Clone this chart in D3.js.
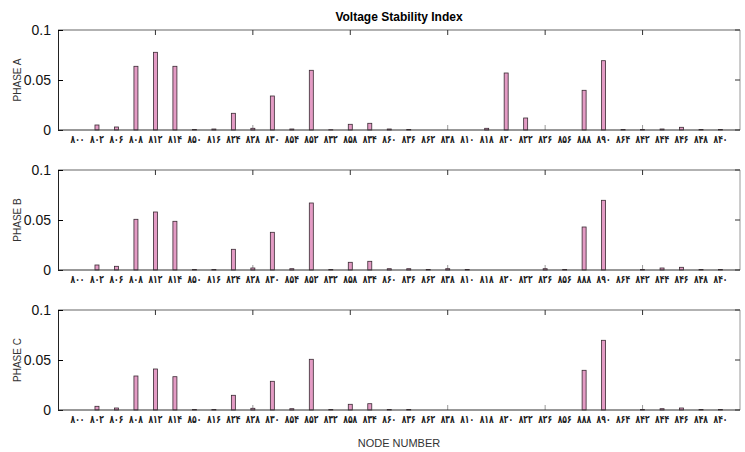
<!DOCTYPE html>
<html>
<head>
<meta charset="utf-8">
<script src="https://cdn.jsdelivr.net/npm/d3@7"></script>
<style>
  body { margin: 0; background: #fff; }
  svg { display: block; }
</style>
</head>
<body>
<div id="chart"></div>
<script>
/* node names (persian digits, as in the original figure) */
const nodes = ['۸۰۰', '۸۰۲', '۸۰۶', '۸۰۸', '۸۱۲', '۸۱۴', '۸۵۰', '۸۱۶', '۸۲۴', '۸۲۸',
  '۸۳۰', '۸۵۴', '۸۵۲', '۸۳۲', '۸۵۸', '۸۳۴', '۸۶۰', '۸۳۶', '۸۶۲', '۸۳۸',
  '۸۱۰', '۸۱۸', '۸۲۰', '۸۲۲', '۸۲۶', '۸۵۶', '۸۸۸', '۸۹۰', '۸۶۴', '۸۴۲',
  '۸۴۴', '۸۴۶', '۸۴۸', '۸۴۰'];

/* voltage stability index per phase */
const phaseA = [0, 0.005, 0.003, 0.0637, 0.0777, 0.0637, 0.0005, 0.001, 0.0167, 0.0017,
  0.034, 0.001, 0.0597, 0.0003, 0.0057, 0.0067, 0.001, 0.0005, 0, 0,
  0, 0.0017, 0.057, 0.012, 0, 0, 0.0397, 0.0693, 0.0005, 0.0005,
  0.001, 0.0027, 0.0005, 0.0005];
const phaseB = [0, 0.005, 0.0037, 0.0507, 0.058, 0.0487, 0.0005, 0.0005, 0.0207, 0.002,
  0.0377, 0.0013, 0.067, 0.0005, 0.0077, 0.0087, 0.0013, 0.0013, 0.0005, 0.0013,
  0.0005, 0, 0, 0, 0.0013, 0.0005, 0.043, 0.0697, 0, 0.0005,
  0.002, 0.0027, 0.0005, 0.0005];
const phaseC = [0, 0.0037, 0.002, 0.034, 0.041, 0.0333, 0.0005, 0.0005, 0.0147, 0.0017,
  0.0287, 0.0013, 0.0507, 0.0005, 0.0057, 0.0063, 0.0005, 0.0005, 0, 0,
  0, 0, 0, 0, 0, 0, 0.0397, 0.0697, 0, 0.0005,
  0.0013, 0.002, 0.0005, 0.0005];

const yTicks = [0, 0.05, 0.1];
const xTicks = [5, 10, 15, 20, 25, 30];

const panels = [
  { name: 'PHASE A', values: phaseA, top: 30 },
  { name: 'PHASE B', values: phaseB, top: 170 },
  { name: 'PHASE C', values: phaseC, top: 310 }
];

const W = 745, H = 452;
const left = 58, right = 740, ph = 100;

const svg = d3.select('#chart').append('svg')
  .attr('width', W).attr('height', H);

/* x: bars sit at 1..34 on a 0..35 axis */
const x = d3.scaleLinear().domain([0, 35]).range([left, right]);

svg.append('text')
  .attr('x', (left + right) / 2).attr('y', 21)
  .attr('text-anchor', 'middle')
  .style('font-family', 'Arial, Liberation Sans, sans-serif')
  .style('font-weight', 'bold').style('font-size', '12px')
  .text('Voltage Stability Index');

panels.forEach(function (p) {
  const y = d3.scaleLinear().domain([0, 0.1]).range([p.top + ph, p.top]);
  const g = svg.append('g');

  /* box: top and right in grey */
  g.append('line').attr('x1', left).attr('x2', right).attr('y1', p.top).attr('y2', p.top)
    .attr('stroke', '#999').attr('stroke-width', 1.5);
  g.append('line').attr('x1', right).attr('x2', right).attr('y1', p.top).attr('y2', p.top + ph)
    .attr('stroke', '#999').attr('stroke-width', 1);

  /* x ticks top and bottom, pointing inward */
  g.selectAll('.xt').data(xTicks).enter().append('line')
    .attr('x1', d => x(d)).attr('x2', d => x(d))
    .attr('y1', p.top).attr('y2', p.top + 5)
    .attr('stroke', '#333');
  g.selectAll('.xb').data(xTicks).enter().append('line')
    .attr('x1', d => x(d)).attr('x2', d => x(d))
    .attr('y1', p.top + ph).attr('y2', p.top + ph - 5)
    .attr('stroke', '#999');

  /* y ticks on the right, inward */
  g.selectAll('.yr').data(yTicks).enter().append('line')
    .attr('x1', right).attr('x2', right - 5)
    .attr('y1', d => y(d)).attr('y2', d => y(d))
    .attr('stroke', '#333');

  /* bars */
  g.selectAll('rect').data(p.values).enter().append('rect')
    .attr('x', (d, i) => x(i + 1) - 2)
    .attr('y', d => y(d))
    .attr('width', 4)
    .attr('height', d => y(0) - y(d))
    .attr('fill', '#e39bc4')
    .attr('stroke', '#3a2a33')
    .attr('stroke-width', 0.8);

  /* left axis */
  const ya = g.append('g')
    .attr('transform', 'translate(' + left + ',0)')
    .call(d3.axisLeft(y).tickValues(yTicks).tickSize(-5).tickPadding(7)
      .tickFormat(d => d === 0 ? '0' : String(d)));
  ya.select('.domain').attr('stroke', '#222');
  ya.selectAll('text')
    .style('font-family', 'Arial, Liberation Sans, sans-serif')
    .style('font-size', '14px').attr('fill', '#111');

  /* bottom axis line */
  g.append('line').attr('x1', left).attr('x2', right)
    .attr('y1', p.top + ph).attr('y2', p.top + ph)
    .attr('stroke', '#333').attr('stroke-width', 1.2);

  /* node labels */
  g.selectAll('.nl').data(nodes).enter().append('text')
    .attr('x', (d, i) => x(i + 1))
    .attr('y', p.top + ph + 13)
    .attr('text-anchor', 'middle')
    .attr('textLength', 14)
    .attr('lengthAdjust', 'spacingAndGlyphs')
    .style('font-family', 'DejaVu Sans, sans-serif')
    .style('font-size', '11px').style('font-weight', 'bold')
    .attr('fill', '#222')
    .text(d => d);

  /* phase label */
  g.append('text')
    .attr('transform', 'translate(21,' + (p.top + ph / 2) + ') rotate(-90)')
    .attr('text-anchor', 'middle')
    .style('font-family', 'Arial, Liberation Sans, sans-serif')
    .style('font-size', '10px').attr('fill', '#333')
    .text(p.name);
});

svg.append('text')
  .attr('x', (left + right) / 2).attr('y', 447)
  .attr('text-anchor', 'middle')
  .style('font-family', 'Arial, Liberation Sans, sans-serif')
  .style('font-size', '11px').attr('fill', '#333')
  .text('NODE NUMBER');
</script>
</body>
</html>
